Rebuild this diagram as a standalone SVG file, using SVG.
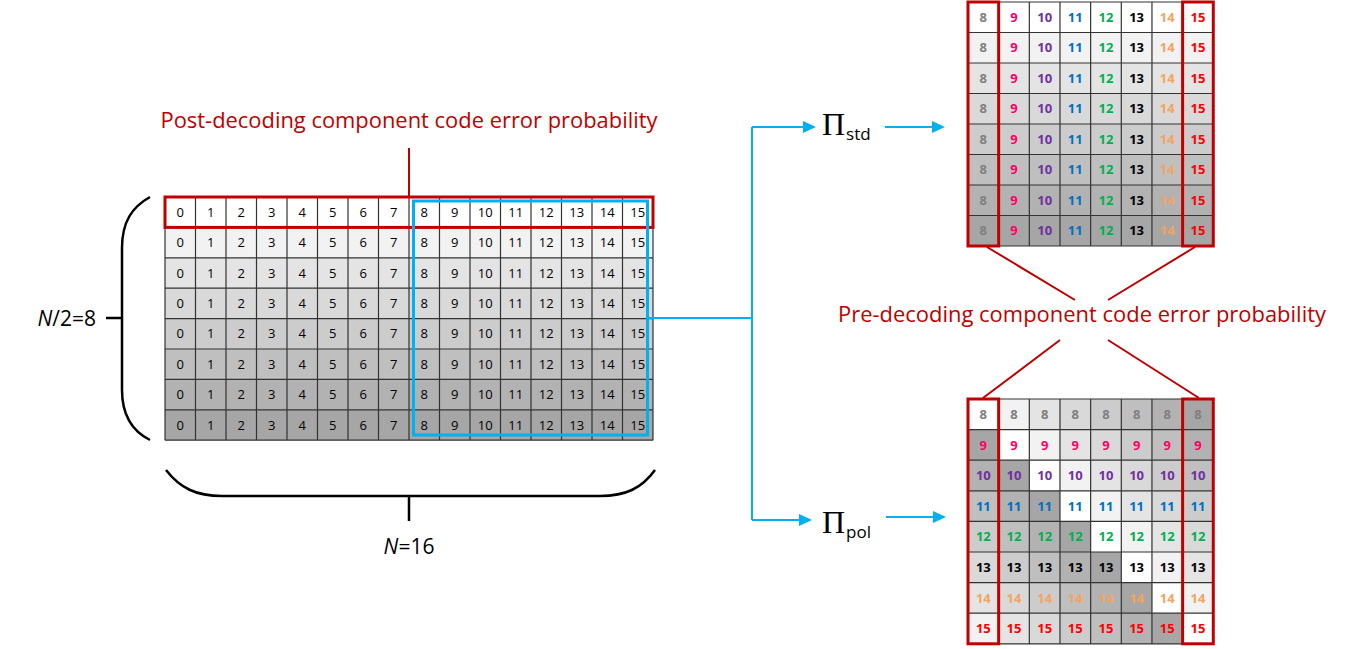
<svg xmlns="http://www.w3.org/2000/svg" width="1351" height="649" viewBox="0 0 1351 649">
  <style>
    .s0{fill:#ffffff}.s1{fill:#f2f2f2}.s2{fill:#e4e4e4}.s3{fill:#d9d9d9}
    .s4{fill:#cccccc}.s5{fill:#bfbfbf}.s6{fill:#b2b2b2}.s7{fill:#a6a6a6}
    .grid{fill:none;stroke:#333333;stroke-width:1.2}
    .cell{font-family:"Open Sans","Liberation Sans",sans-serif;font-size:13px;text-anchor:middle;fill:#000}
    .bold{font-weight:bold}
    .v8{fill:#808080}.v9{fill:#ff0066}.v10{fill:#7030a0}.v11{fill:#0070c0}
    .v12{fill:#00b050}.v13{fill:#000000}.v14{fill:#f4a460}.v15{fill:#ff0000}
    .redbox{fill:none;stroke:#c00000;stroke-width:3}
    .bluebox{fill:none;stroke:#00b0f0;stroke-width:3}
    .blue{fill:none;stroke:#00b0f0;stroke-width:2}
    .red{fill:none;stroke:#c00000;stroke-width:2}
    .brace{fill:none;stroke:#000;stroke-width:2.5}
    .title{font-family:"Open Sans","Liberation Sans",sans-serif;font-size:21px;fill:#c00000;text-anchor:middle}
    .dim{font-family:"Open Sans","Liberation Sans",sans-serif;font-size:21px;fill:#000}
    .pi{font-family:"Liberation Serif",serif;font-size:32px;fill:#000}
    .sub{font-family:"Open Sans","Liberation Sans",sans-serif;font-size:17px}
  </style>
  <defs>
    <marker id="arrow" markerUnits="userSpaceOnUse" markerWidth="13" markerHeight="12" refX="0" refY="6" orient="auto">
      <path d="M0,0 L13,6 L0,12 z" fill="#00b0f0"/>
    </marker>
  </defs>

  <!-- input block: 8 rows x 16 columns, shaded by row -->
  <g id="input-block">
    <rect class="s0" x="165" y="197" width="488" height="30.4"/>
    <rect class="s1" x="165" y="227.4" width="488" height="30.4"/>
    <rect class="s2" x="165" y="257.8" width="488" height="30.4"/>
    <rect class="s3" x="165" y="288.2" width="488" height="30.4"/>
    <rect class="s4" x="165" y="318.6" width="488" height="30.4"/>
    <rect class="s5" x="165" y="349" width="488" height="30.4"/>
    <rect class="s6" x="165" y="379.4" width="488" height="30.4"/>
    <rect class="s7" x="165" y="409.8" width="488" height="30.4"/>
    <path class="grid" d="M165,197V440.2M195.5,197V440.2M226,197V440.2M256.5,197V440.2M287,197V440.2M317.5,197V440.2M348,197V440.2M378.5,197V440.2M409,197V440.2M439.5,197V440.2M470,197V440.2M500.5,197V440.2M531,197V440.2M561.5,197V440.2M592,197V440.2M622.5,197V440.2M653,197V440.2
      M165,197H653M165,227.4H653M165,257.8H653M165,288.2H653M165,318.6H653M165,349H653M165,379.4H653M165,409.8H653M165,440.2H653"/>
    <g class="cell" transform="translate(0,216.8)"><text x="180.25">0</text><text x="210.75">1</text><text x="241.25">2</text><text x="271.75">3</text><text x="302.25">4</text><text x="332.75">5</text><text x="363.25">6</text><text x="393.75">7</text><text x="424.25">8</text><text x="454.75">9</text><text x="485.25">10</text><text x="515.75">11</text><text x="546.25">12</text><text x="576.75">13</text><text x="607.25">14</text><text x="637.75">15</text></g>
    <g class="cell" transform="translate(0,247.2)"><text x="180.25">0</text><text x="210.75">1</text><text x="241.25">2</text><text x="271.75">3</text><text x="302.25">4</text><text x="332.75">5</text><text x="363.25">6</text><text x="393.75">7</text><text x="424.25">8</text><text x="454.75">9</text><text x="485.25">10</text><text x="515.75">11</text><text x="546.25">12</text><text x="576.75">13</text><text x="607.25">14</text><text x="637.75">15</text></g>
    <g class="cell" transform="translate(0,277.6)"><text x="180.25">0</text><text x="210.75">1</text><text x="241.25">2</text><text x="271.75">3</text><text x="302.25">4</text><text x="332.75">5</text><text x="363.25">6</text><text x="393.75">7</text><text x="424.25">8</text><text x="454.75">9</text><text x="485.25">10</text><text x="515.75">11</text><text x="546.25">12</text><text x="576.75">13</text><text x="607.25">14</text><text x="637.75">15</text></g>
    <g class="cell" transform="translate(0,308)"><text x="180.25">0</text><text x="210.75">1</text><text x="241.25">2</text><text x="271.75">3</text><text x="302.25">4</text><text x="332.75">5</text><text x="363.25">6</text><text x="393.75">7</text><text x="424.25">8</text><text x="454.75">9</text><text x="485.25">10</text><text x="515.75">11</text><text x="546.25">12</text><text x="576.75">13</text><text x="607.25">14</text><text x="637.75">15</text></g>
    <g class="cell" transform="translate(0,338.4)"><text x="180.25">0</text><text x="210.75">1</text><text x="241.25">2</text><text x="271.75">3</text><text x="302.25">4</text><text x="332.75">5</text><text x="363.25">6</text><text x="393.75">7</text><text x="424.25">8</text><text x="454.75">9</text><text x="485.25">10</text><text x="515.75">11</text><text x="546.25">12</text><text x="576.75">13</text><text x="607.25">14</text><text x="637.75">15</text></g>
    <g class="cell" transform="translate(0,368.8)"><text x="180.25">0</text><text x="210.75">1</text><text x="241.25">2</text><text x="271.75">3</text><text x="302.25">4</text><text x="332.75">5</text><text x="363.25">6</text><text x="393.75">7</text><text x="424.25">8</text><text x="454.75">9</text><text x="485.25">10</text><text x="515.75">11</text><text x="546.25">12</text><text x="576.75">13</text><text x="607.25">14</text><text x="637.75">15</text></g>
    <g class="cell" transform="translate(0,399.2)"><text x="180.25">0</text><text x="210.75">1</text><text x="241.25">2</text><text x="271.75">3</text><text x="302.25">4</text><text x="332.75">5</text><text x="363.25">6</text><text x="393.75">7</text><text x="424.25">8</text><text x="454.75">9</text><text x="485.25">10</text><text x="515.75">11</text><text x="546.25">12</text><text x="576.75">13</text><text x="607.25">14</text><text x="637.75">15</text></g>
    <g class="cell" transform="translate(0,429.6)"><text x="180.25">0</text><text x="210.75">1</text><text x="241.25">2</text><text x="271.75">3</text><text x="302.25">4</text><text x="332.75">5</text><text x="363.25">6</text><text x="393.75">7</text><text x="424.25">8</text><text x="454.75">9</text><text x="485.25">10</text><text x="515.75">11</text><text x="546.25">12</text><text x="576.75">13</text><text x="607.25">14</text><text x="637.75">15</text></g>
    <rect class="redbox" x="165" y="197" width="488" height="30.4"/>
    <rect class="bluebox" x="413.5" y="201" width="234" height="234"/>
  </g>

  <!-- dimension braces -->
  <g id="row-brace">
    <path class="brace" d="M150,197 C132,207 122,222 122,248 L122,390 C122,416 132,431 150,440 M106,318 H122"/>
    <text class="dim" x="96" y="326" text-anchor="end"><tspan font-style="italic">N</tspan>/2=8</text>
  </g>
  <g id="col-brace">
    <path class="brace" d="M166,470 C180,488 196,496 222,496 L600,496 C626,496 642,488 655,470 M409,496 V521"/>
    <text class="dim" x="409" y="554" text-anchor="middle"><tspan font-style="italic">N</tspan>=16</text>
  </g>

  <g id="post-label">
    <text class="title" x="409" y="128" textLength="497" lengthAdjust="spacingAndGlyphs">Post-decoding component code error probability</text>
  </g>
  <g id="pre-label">
    <text class="title" x="1082" y="322" textLength="488" lengthAdjust="spacingAndGlyphs">Pre-decoding component code error probability</text>
  </g>

  <g id="pi-std">
    <text class="pi" x="822" y="135">Π<tspan class="sub" dx="1" dy="5">std</tspan></text>
  </g>
  <g id="pi-pol">
    <text class="pi" x="822" y="533">Π<tspan class="sub" dx="1" dy="5">pol</tspan></text>
  </g>

  <!-- standard interleaver output: shaded by row -->
  <g id="std-block">
    <rect class="s0" x="968" y="2" width="245.3" height="30.5"/>
    <rect class="s1" x="968" y="32.5" width="245.3" height="30.5"/>
    <rect class="s2" x="968" y="63" width="245.3" height="30.5"/>
    <rect class="s3" x="968" y="93.5" width="245.3" height="30.5"/>
    <rect class="s4" x="968" y="124" width="245.3" height="30.5"/>
    <rect class="s5" x="968" y="154.5" width="245.3" height="30.5"/>
    <rect class="s6" x="968" y="185" width="245.3" height="30.5"/>
    <rect class="s7" x="968" y="215.5" width="245.3" height="30.5"/>
    <path class="grid" d="M968,2V246M998.66,2V246M1029.32,2V246M1059.98,2V246M1090.64,2V246M1121.3,2V246M1151.96,2V246M1182.62,2V246M1213.3,2V246
      M968,2H1213.3M968,32.5H1213.3M968,63H1213.3M968,93.5H1213.3M968,124H1213.3M968,154.5H1213.3M968,185H1213.3M968,215.5H1213.3M968,246H1213.3"/>
    <g class="cell bold" transform="translate(0,21.85)"><text class="v8" x="983.33">8</text><text class="v9" x="1014">9</text><text class="v10" x="1044.65">10</text><text class="v11" x="1075.3">11</text><text class="v12" x="1106">12</text><text class="v13" x="1136.6">13</text><text class="v14" x="1167.3">14</text><text class="v15" x="1197.95">15</text></g>
    <g class="cell bold" transform="translate(0,52.35)"><text class="v8" x="983.33">8</text><text class="v9" x="1014">9</text><text class="v10" x="1044.65">10</text><text class="v11" x="1075.3">11</text><text class="v12" x="1106">12</text><text class="v13" x="1136.6">13</text><text class="v14" x="1167.3">14</text><text class="v15" x="1197.95">15</text></g>
    <g class="cell bold" transform="translate(0,82.85)"><text class="v8" x="983.33">8</text><text class="v9" x="1014">9</text><text class="v10" x="1044.65">10</text><text class="v11" x="1075.3">11</text><text class="v12" x="1106">12</text><text class="v13" x="1136.6">13</text><text class="v14" x="1167.3">14</text><text class="v15" x="1197.95">15</text></g>
    <g class="cell bold" transform="translate(0,113.35)"><text class="v8" x="983.33">8</text><text class="v9" x="1014">9</text><text class="v10" x="1044.65">10</text><text class="v11" x="1075.3">11</text><text class="v12" x="1106">12</text><text class="v13" x="1136.6">13</text><text class="v14" x="1167.3">14</text><text class="v15" x="1197.95">15</text></g>
    <g class="cell bold" transform="translate(0,143.85)"><text class="v8" x="983.33">8</text><text class="v9" x="1014">9</text><text class="v10" x="1044.65">10</text><text class="v11" x="1075.3">11</text><text class="v12" x="1106">12</text><text class="v13" x="1136.6">13</text><text class="v14" x="1167.3">14</text><text class="v15" x="1197.95">15</text></g>
    <g class="cell bold" transform="translate(0,174.35)"><text class="v8" x="983.33">8</text><text class="v9" x="1014">9</text><text class="v10" x="1044.65">10</text><text class="v11" x="1075.3">11</text><text class="v12" x="1106">12</text><text class="v13" x="1136.6">13</text><text class="v14" x="1167.3">14</text><text class="v15" x="1197.95">15</text></g>
    <g class="cell bold" transform="translate(0,204.85)"><text class="v8" x="983.33">8</text><text class="v9" x="1014">9</text><text class="v10" x="1044.65">10</text><text class="v11" x="1075.3">11</text><text class="v12" x="1106">12</text><text class="v13" x="1136.6">13</text><text class="v14" x="1167.3">14</text><text class="v15" x="1197.95">15</text></g>
    <g class="cell bold" transform="translate(0,235.35)"><text class="v8" x="983.33">8</text><text class="v9" x="1014">9</text><text class="v10" x="1044.65">10</text><text class="v11" x="1075.3">11</text><text class="v12" x="1106">12</text><text class="v13" x="1136.6">13</text><text class="v14" x="1167.3">14</text><text class="v15" x="1197.95">15</text></g>
    <rect class="redbox" x="968" y="2" width="30.66" height="244"/>
    <rect class="redbox" x="1182.62" y="2" width="30.66" height="244"/>
  </g>

  <!-- polar interleaver output: shade index (col - row) mod 8 -->
  <g id="pol-block">
    <g transform="translate(968,399)">
      <rect class="s0" x="0" y="0" width="30.66" height="30.6"/><rect class="s1" x="30.66" y="0" width="30.66" height="30.6"/><rect class="s2" x="61.32" y="0" width="30.66" height="30.6"/><rect class="s3" x="91.98" y="0" width="30.66" height="30.6"/><rect class="s4" x="122.64" y="0" width="30.66" height="30.6"/><rect class="s5" x="153.3" y="0" width="30.66" height="30.6"/><rect class="s6" x="183.96" y="0" width="30.66" height="30.6"/><rect class="s7" x="214.62" y="0" width="30.66" height="30.6"/>
      <rect class="s7" x="0" y="30.6" width="30.66" height="30.6"/><rect class="s0" x="30.66" y="30.6" width="30.66" height="30.6"/><rect class="s1" x="61.32" y="30.6" width="30.66" height="30.6"/><rect class="s2" x="91.98" y="30.6" width="30.66" height="30.6"/><rect class="s3" x="122.64" y="30.6" width="30.66" height="30.6"/><rect class="s4" x="153.3" y="30.6" width="30.66" height="30.6"/><rect class="s5" x="183.96" y="30.6" width="30.66" height="30.6"/><rect class="s6" x="214.62" y="30.6" width="30.66" height="30.6"/>
      <rect class="s6" x="0" y="61.2" width="30.66" height="30.6"/><rect class="s7" x="30.66" y="61.2" width="30.66" height="30.6"/><rect class="s0" x="61.32" y="61.2" width="30.66" height="30.6"/><rect class="s1" x="91.98" y="61.2" width="30.66" height="30.6"/><rect class="s2" x="122.64" y="61.2" width="30.66" height="30.6"/><rect class="s3" x="153.3" y="61.2" width="30.66" height="30.6"/><rect class="s4" x="183.96" y="61.2" width="30.66" height="30.6"/><rect class="s5" x="214.62" y="61.2" width="30.66" height="30.6"/>
      <rect class="s5" x="0" y="91.8" width="30.66" height="30.6"/><rect class="s6" x="30.66" y="91.8" width="30.66" height="30.6"/><rect class="s7" x="61.32" y="91.8" width="30.66" height="30.6"/><rect class="s0" x="91.98" y="91.8" width="30.66" height="30.6"/><rect class="s1" x="122.64" y="91.8" width="30.66" height="30.6"/><rect class="s2" x="153.3" y="91.8" width="30.66" height="30.6"/><rect class="s3" x="183.96" y="91.8" width="30.66" height="30.6"/><rect class="s4" x="214.62" y="91.8" width="30.66" height="30.6"/>
      <rect class="s4" x="0" y="122.4" width="30.66" height="30.6"/><rect class="s5" x="30.66" y="122.4" width="30.66" height="30.6"/><rect class="s6" x="61.32" y="122.4" width="30.66" height="30.6"/><rect class="s7" x="91.98" y="122.4" width="30.66" height="30.6"/><rect class="s0" x="122.64" y="122.4" width="30.66" height="30.6"/><rect class="s1" x="153.3" y="122.4" width="30.66" height="30.6"/><rect class="s2" x="183.96" y="122.4" width="30.66" height="30.6"/><rect class="s3" x="214.62" y="122.4" width="30.66" height="30.6"/>
      <rect class="s3" x="0" y="153" width="30.66" height="30.6"/><rect class="s4" x="30.66" y="153" width="30.66" height="30.6"/><rect class="s5" x="61.32" y="153" width="30.66" height="30.6"/><rect class="s6" x="91.98" y="153" width="30.66" height="30.6"/><rect class="s7" x="122.64" y="153" width="30.66" height="30.6"/><rect class="s0" x="153.3" y="153" width="30.66" height="30.6"/><rect class="s1" x="183.96" y="153" width="30.66" height="30.6"/><rect class="s2" x="214.62" y="153" width="30.66" height="30.6"/>
      <rect class="s2" x="0" y="183.6" width="30.66" height="30.6"/><rect class="s3" x="30.66" y="183.6" width="30.66" height="30.6"/><rect class="s4" x="61.32" y="183.6" width="30.66" height="30.6"/><rect class="s5" x="91.98" y="183.6" width="30.66" height="30.6"/><rect class="s6" x="122.64" y="183.6" width="30.66" height="30.6"/><rect class="s7" x="153.3" y="183.6" width="30.66" height="30.6"/><rect class="s0" x="183.96" y="183.6" width="30.66" height="30.6"/><rect class="s1" x="214.62" y="183.6" width="30.66" height="30.6"/>
      <rect class="s1" x="0" y="214.2" width="30.66" height="30.6"/><rect class="s2" x="30.66" y="214.2" width="30.66" height="30.6"/><rect class="s3" x="61.32" y="214.2" width="30.66" height="30.6"/><rect class="s4" x="91.98" y="214.2" width="30.66" height="30.6"/><rect class="s5" x="122.64" y="214.2" width="30.66" height="30.6"/><rect class="s6" x="153.3" y="214.2" width="30.66" height="30.6"/><rect class="s7" x="183.96" y="214.2" width="30.66" height="30.6"/><rect class="s0" x="214.62" y="214.2" width="30.66" height="30.6"/>
    </g>
    <path class="grid" d="M968,399V643.8M998.66,399V643.8M1029.32,399V643.8M1059.98,399V643.8M1090.64,399V643.8M1121.3,399V643.8M1151.96,399V643.8M1182.62,399V643.8M1213.3,399V643.8
      M968,399H1213.3M968,429.6H1213.3M968,460.2H1213.3M968,490.8H1213.3M968,521.4H1213.3M968,552H1213.3M968,582.6H1213.3M968,613.2H1213.3M968,643.8H1213.3"/>
    <g class="cell bold v8" transform="translate(0,418.9)"><text x="983.33">8</text><text x="1014">8</text><text x="1044.65">8</text><text x="1075.3">8</text><text x="1106">8</text><text x="1136.6">8</text><text x="1167.3">8</text><text x="1197.95">8</text></g>
    <g class="cell bold v9" transform="translate(0,449.5)"><text x="983.33">9</text><text x="1014">9</text><text x="1044.65">9</text><text x="1075.3">9</text><text x="1106">9</text><text x="1136.6">9</text><text x="1167.3">9</text><text x="1197.95">9</text></g>
    <g class="cell bold v10" transform="translate(0,480.1)"><text x="983.33">10</text><text x="1014">10</text><text x="1044.65">10</text><text x="1075.3">10</text><text x="1106">10</text><text x="1136.6">10</text><text x="1167.3">10</text><text x="1197.95">10</text></g>
    <g class="cell bold v11" transform="translate(0,510.7)"><text x="983.33">11</text><text x="1014">11</text><text x="1044.65">11</text><text x="1075.3">11</text><text x="1106">11</text><text x="1136.6">11</text><text x="1167.3">11</text><text x="1197.95">11</text></g>
    <g class="cell bold v12" transform="translate(0,541.3)"><text x="983.33">12</text><text x="1014">12</text><text x="1044.65">12</text><text x="1075.3">12</text><text x="1106">12</text><text x="1136.6">12</text><text x="1167.3">12</text><text x="1197.95">12</text></g>
    <g class="cell bold v13" transform="translate(0,571.9)"><text x="983.33">13</text><text x="1014">13</text><text x="1044.65">13</text><text x="1075.3">13</text><text x="1106">13</text><text x="1136.6">13</text><text x="1167.3">13</text><text x="1197.95">13</text></g>
    <g class="cell bold v14" transform="translate(0,602.5)"><text x="983.33">14</text><text x="1014">14</text><text x="1044.65">14</text><text x="1075.3">14</text><text x="1106">14</text><text x="1136.6">14</text><text x="1167.3">14</text><text x="1197.95">14</text></g>
    <g class="cell bold v15" transform="translate(0,633.1)"><text x="983.33">15</text><text x="1014">15</text><text x="1044.65">15</text><text x="1075.3">15</text><text x="1106">15</text><text x="1136.6">15</text><text x="1167.3">15</text><text x="1197.95">15</text></g>
    <rect class="redbox" x="968" y="399" width="30.66" height="244.8"/>
    <rect class="redbox" x="1182.62" y="399" width="30.66" height="244.8"/>
  </g>

  <g id="connectors">
    <path class="blue" d="M648,318 H752 M752,127 V520"/>
    <path class="blue" d="M752,127 H803" marker-end="url(#arrow)"/>
    <path class="blue" d="M752,520 H799" marker-end="url(#arrow)"/>
    <path class="blue" d="M885,127 H932" marker-end="url(#arrow)"/>
    <path class="blue" d="M886,517 H933" marker-end="url(#arrow)"/>
    <path class="red" d="M409,148 V197"/>
    <path class="red" d="M987,247 L1075,300 M1195,247 L1108,300"/>
    <path class="red" d="M1060,340 L983,398 M1108,340 L1199,398"/>
  </g>
</svg>
